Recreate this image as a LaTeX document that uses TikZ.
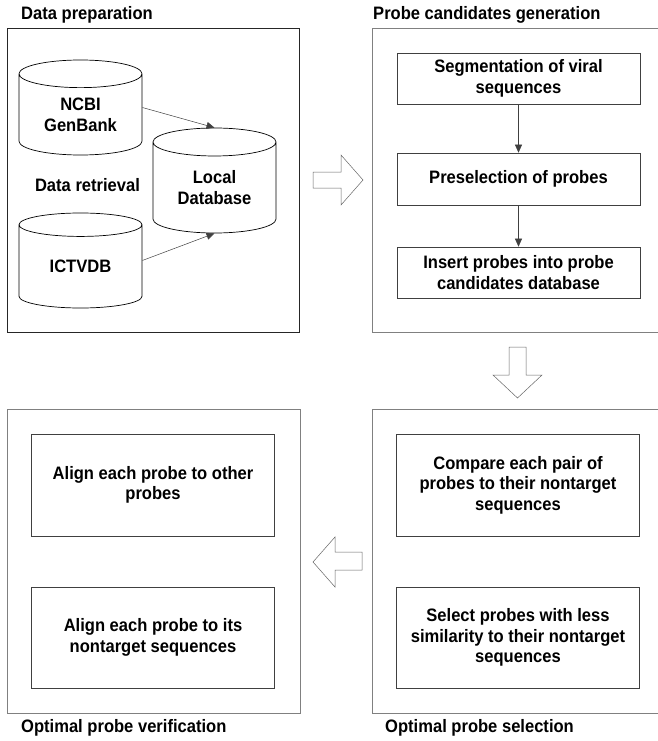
\documentclass[tikz,border=0pt]{standalone}
\usepackage{fontspec}
\setmainfont{Liberation Sans}[FakeStretch=0.92]
\usetikzlibrary{positioning,arrows.meta,shapes.geometric}

\begin{document}
\begin{tikzpicture}[
  x=1pt, y=-1pt,
  font=\fontsize{18}{20.5}\selectfont\bfseries,
  >={Triangle[length=8pt, width=7pt]},
  panel/.style={draw=black!50, line width=0.6pt},
  ttl/.style={anchor=west, inner sep=0pt},
  stepbox/.style={draw=black!75, line width=0.6pt, align=center, minimum width=243pt, inner sep=0pt},
  db/.style={cylinder, shape border rotate=90, draw=black, line width=0.7pt, aspect=0.38,
             minimum width=123pt, align=center, inner sep=0pt, anchor=shape center},
  link/.style={->, draw=black!75, line width=0.5pt},
  hollow/.style={draw=black!60, line width=0.5pt, fill=white},
]
\useasboundingbox (0,0) rectangle (657,741);

% ---- four panels (right ones run off the page) ----
\draw[panel, draw=black!85] (7,28) rectangle (299,332);
\draw[panel] (372,28) rectangle (670,332);
\draw[panel] (7,409) rectangle (300,713);
\draw[panel] (372,409) rectangle (670,713);

\node[ttl] (tprep) at (21,15) {Data preparation};
\node[ttl] (tgen) at (373,15) {Probe candidates generation};
\node[ttl] (tver) at (21,728) {Optimal probe verification};
\node[ttl] (tsel) at (385,728) {Optimal probe selection};

% ---- data preparation ----
\node[db, minimum height=95pt] (ncbi) at (80.5,107.5) {NCBI\\GenBank};
\node[db, minimum height=95pt] (ictv) at (80.5,260.5) {ICTVDB};
\node[db, minimum height=105pt] (local) at (214.5,180.5) {Local\\Database};
\node (retr) at (87.5,185) {Data retrieval};
\draw[link] (ncbi.shape center -| ncbi.east) -- (local.north);
\draw[link] (ictv.shape center -| ictv.east) -- (local.south);

% ---- probe candidates generation ----
\node[stepbox, minimum height=51pt] (seg) at (518.5,78.5) {Segmentation of viral\\sequences};
\node[stepbox, minimum height=52pt] (pre) at (518.5,179) {Preselection of probes};
\node[stepbox, minimum height=51pt] (ins) at (518.5,272.5) {Insert probes into probe\\candidates database};
\draw[link] (seg) -- (pre);
\draw[link] (pre) -- (ins);

% ---- optimal probe selection / verification ----
\node[stepbox, minimum height=102pt] (cmp) at (518,485) {Compare each pair of\\probes to their nontarget\\sequences};
\node[stepbox, minimum height=101pt] (sel) at (518,637.5) {Select probes with less\\similarity to their nontarget\\sequences};
\node[stepbox, minimum height=102pt] (al1) at (153,485) {Align each probe to other\\probes};
\node[stepbox, minimum height=101pt] (al2) at (153,637.5) {Align each probe to its\\nontarget sequences};

% ---- hollow block arrows between panels ----
\draw[hollow] (313,172) -- (341,172) -- (341,155) -- (363,180) -- (341,205) -- (341,188) -- (313,188) -- cycle;
\draw[hollow] (509,347) -- (526,347) -- (526,375) -- (542,375) -- (517.5,398) -- (493,375) -- (509,375) -- cycle;
\draw[hollow] (362,552) -- (335,552) -- (335,537) -- (313,562) -- (335,587) -- (335,570) -- (362,570) -- cycle;
\end{tikzpicture}
\end{document}
